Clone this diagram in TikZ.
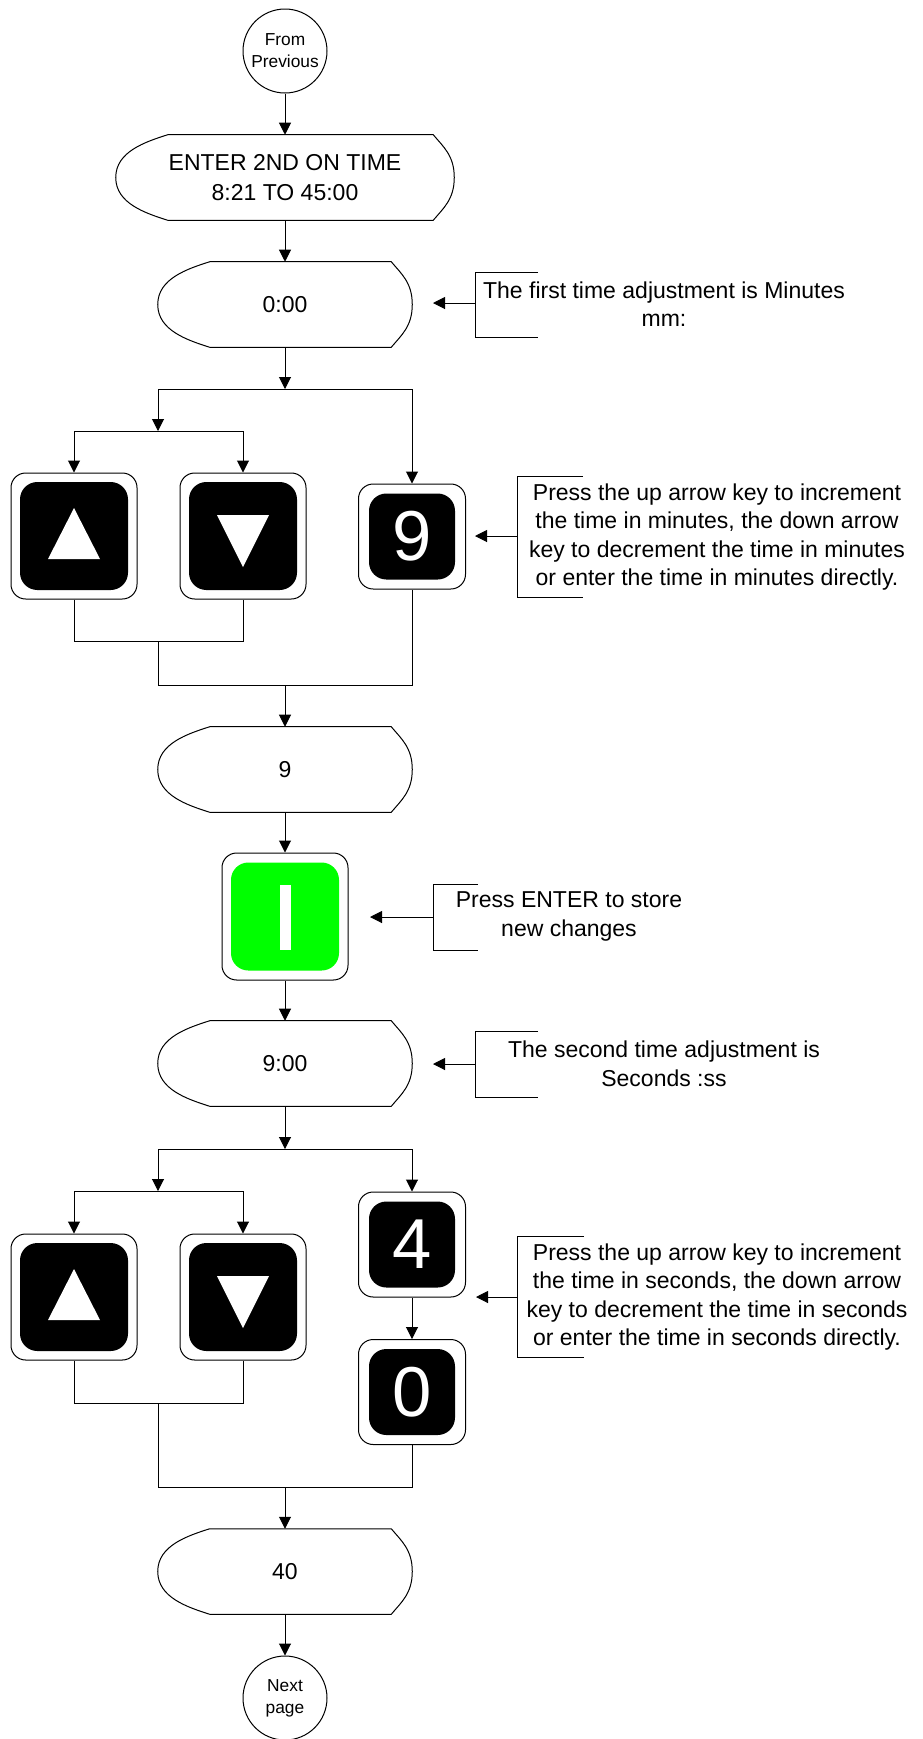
\documentclass[tikz,border=0pt]{standalone}
\usepackage{fontspec}
\setmainfont{Liberation Sans}
\usetikzlibrary{calc,arrows.meta}
\definecolor{keygreen}{RGB}{0,255,0}
\def\pxu{0.75pt}
\newcommand\mytext{\fontsize{17.25pt}{21.4pt}\selectfont}
\newcommand\smalltext{\fontsize{13pt}{16.5pt}\selectfont}
\newcommand\digitfont{\fontsize{53pt}{60pt}\selectfont}
\tikzset{
  ln/.style={line width=0.75pt, draw=black},
  arr/.style={-{Triangle[length=9pt,width=9pt]}},
  disp/.style={inner sep=0pt, align=center, font=\mytext},
  note/.style={inner sep=0pt, align=center, font=\mytext},
  term/.style={ln, circle, minimum size=84*\pxu, inner sep=0pt, align=center, font=\smalltext},
  keyout/.style={ln, fill=white, rounded corners=11pt, inner sep=0pt},
  keyin/.style={fill=black, rounded corners=13pt, inner sep=0pt, text=white, font=\digitfont},
}
\newcommand\dispshape[5]{%
  \node[disp, minimum width=#4*\pxu, minimum height=85*\pxu] (#1) at (#2,#3) {#5};
  \draw[ln] ($(#1.north west)+(52,0)$) -- ($(#1.north east)+(-21,0)$)
    .. controls ($(#1.north east)+(-11,12)$) and ($(#1.east)+(0,-22)$) .. (#1.east)
    .. controls ($(#1.east)+(0,22)$) and ($(#1.south east)+(-11,-12)$) .. ($(#1.south east)+(-21,0)$)
    -- ($(#1.south west)+(52,0)$)
    .. controls ($(#1.south west)+(30,-7)$) and ($(#1.west)+(0,26)$) .. (#1.west)
    .. controls ($(#1.west)+(0,-26)$) and ($(#1.north west)+(30,7)$) .. cycle;
}
\newcommand\bracketnote[8]{% name, x, ytop, ybot, ymid, len, tipx
  \coordinate (#1t) at (#2,#3);
  \coordinate (#1b) at (#2,#4);
  \coordinate (#1m) at (#2,#5);
  \coordinate (#1tip) at (#7,#5);
  \draw[ln] ($(#1t)+(#6,0)$) -- (#1t) -- (#1b) -- ($(#1b)+(#6,0)$);
  \draw[ln,arr] (#1m) -- (#1tip);
}
\begin{document}
\begin{tikzpicture}[x=0.75pt,y=-0.75pt]
\useasboundingbox (0,0) rectangle (922,1739);

% terminals and displays
\node[term] (from) at (285,51) {From\\Previous};
\dispshape{enter}{285}{177.5}{338}{ENTER 2ND ON TIME\\[1.1pt]8:21 TO 45:00}
\dispshape{d0}{285}{304.5}{254}{0:00}
\dispshape{d9}{285}{769.5}{254}{9}
\dispshape{d900}{285}{1063.5}{254}{9:00}
\dispshape{d40}{285}{1571.5}{254}{40}
\node[term] (next) at (285,1698) {Next\\page};

% keys, first group
\node[keyout, minimum width=126*\pxu, minimum height=126*\pxu] (up1) at (74,536) {};
\node[keyin, minimum size=108*\pxu] (up1i) at (up1) {};
\fill[white] ($(up1)+(0,-28)$) -- ($(up1)+(26,23)$) -- ($(up1)+(-26,23)$) -- cycle;
\node[keyout, minimum width=126*\pxu, minimum height=126*\pxu] (dn1) at (243,536) {};
\node[keyin, minimum size=108*\pxu] (dn1i) at (dn1) {};
\fill[white] ($(dn1)+(-26,-21)$) -- ($(dn1)+(26,-21)$) -- ($(dn1)+(0,31)$) -- cycle;
\node[keyout, minimum width=107*\pxu, minimum height=105*\pxu] (k9) at (412,536.5) {};
\node[keyin, minimum size=86*\pxu] (k9i) at (k9) {9};

% enter key
\node[keyout, minimum width=126*\pxu, minimum height=127*\pxu] (ent) at (285,916.5) {};
\node[keyin, fill=keygreen, minimum size=108*\pxu] (enti) at (ent) {};
\fill[white] ($(ent)+(-5,-32)$) rectangle ($(ent)+(6,33)$);

% keys, second group
\node[keyout, minimum width=126*\pxu, minimum height=126*\pxu] (up2) at (74,1297) {};
\node[keyin, minimum size=108*\pxu] (up2i) at (up2) {};
\fill[white] ($(up2)+(0,-28)$) -- ($(up2)+(26,23)$) -- ($(up2)+(-26,23)$) -- cycle;
\node[keyout, minimum width=126*\pxu, minimum height=126*\pxu] (dn2) at (243,1297) {};
\node[keyin, minimum size=108*\pxu] (dn2i) at (dn2) {};
\fill[white] ($(dn2)+(-26,-21)$) -- ($(dn2)+(26,-21)$) -- ($(dn2)+(0,31)$) -- cycle;
\node[keyout, minimum width=107*\pxu, minimum height=105*\pxu] (k4) at (412,1244.5) {};
\node[keyin, minimum size=86*\pxu] (k4i) at (k4) {4};
\node[keyout, minimum width=107*\pxu, minimum height=105*\pxu] (k0) at (412,1392) {};
\node[keyin, minimum size=86*\pxu] (k0i) at (k0) {0};

% junction coordinates
\coordinate (j1) at (285,389); \coordinate (j1l) at (158,389); \coordinate (j1r) at (412,389);
\coordinate (j2) at (158,431); \coordinate (j2l) at (74,431); \coordinate (j2r) at (243,431);
\coordinate (b1l) at (74,641); \coordinate (b1r) at (243,641); \coordinate (b1m) at (158,641);
\coordinate (b2l) at (158,685); \coordinate (b2r) at (412,685); \coordinate (b2m) at (285,685);
\coordinate (j3) at (285,1149); \coordinate (j3l) at (158,1149); \coordinate (j3r) at (412,1149);
\coordinate (j4) at (158,1191); \coordinate (j4l) at (74,1191); \coordinate (j4r) at (243,1191);
\coordinate (b3l) at (74,1403); \coordinate (b3r) at (243,1403); \coordinate (b3m) at (158,1403);
\coordinate (b4l) at (158,1487); \coordinate (b4r) at (412,1487); \coordinate (b4m) at (285,1487);

% connectors
\draw[ln,arr] (from) -- (enter);
\draw[ln,arr] (enter) -- (d0);
\draw[ln,arr] (d0) -- (j1);
\draw[ln] (j1l) -- (j1r);
\draw[ln,arr] (j1l) -- (j2);
\draw[ln] (j2l) -- (j2r);
\draw[ln,arr] (j2l) -- (up1);
\draw[ln,arr] (j2r) -- (dn1);
\draw[ln,arr] (j1r) -- (k9);
\draw[ln] (up1) -- (b1l) -- (b1r) -- (dn1);
\draw[ln] (b1m) -- (b2l) -- (b2r) -- (k9);
\draw[ln,arr] (b2m) -- (d9);
\draw[ln,arr] (d9) -- (ent);
\draw[ln,arr] (ent) -- (d900);
\draw[ln,arr] (d900) -- (j3);
\draw[ln] (j3l) -- (j3r);
\draw[ln,arr] (j3l) -- (j4);
\draw[ln] (j4l) -- (j4r);
\draw[ln,arr] (j4l) -- (up2);
\draw[ln,arr] (j4r) -- (dn2);
\draw[ln,arr] (j3r) -- (k4);
\draw[ln,arr] (k4) -- (k0);
\draw[ln] (up2) -- (b3l) -- (b3r) -- (dn2);
\draw[ln] (b3m) -- (b4l) -- (b4r) -- (k0);
\draw[ln,arr] (b4m) -- (d40);
\draw[ln,arr] (d40) -- (next);

% annotations
\bracketnote{na}{475}{272}{337}{303}{63}{433}{}
\node[note] (n1) at (664,304) {The first time adjustment is Minutes\\mm:};
\bracketnote{nb}{517}{476}{597}{536}{66}{475}{}
\node[note] (n2) at (717,537) {Press the up arrow key to increment\\the time in minutes, the down arrow\\key to decrement the time in minutes\\or enter the time in minutes directly.};
\bracketnote{nc}{433}{884}{950}{917}{45}{370}{}
\node[note] (n3) at (569,916.5) {Press ENTER to store\\new changes};
\bracketnote{nd}{475}{1031}{1097}{1064}{63}{433}{}
\node[note] (n4) at (664,1064) {The second time adjustment is\\Seconds :ss};
\bracketnote{ne}{517}{1236}{1357}{1297}{67}{476}{}
\node[note] (n5) at (717,1297) {Press the up arrow key to increment\\the time in seconds, the down arrow\\key to decrement the time in seconds\\or enter the time in seconds directly.};
\end{tikzpicture}
\end{document}
